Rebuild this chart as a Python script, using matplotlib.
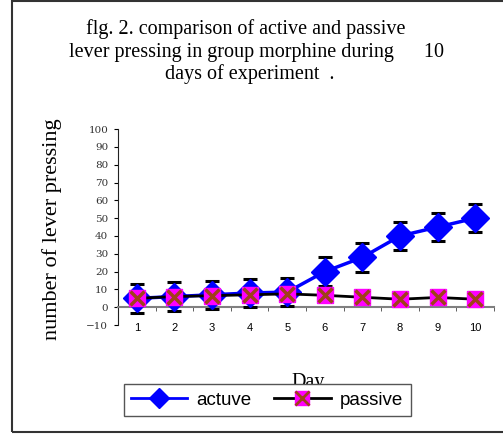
import matplotlib.pyplot as plt
import matplotlib.patches as patches
from matplotlib.lines import Line2D
from matplotlib.legend_handler import HandlerTuple
import numpy as np

days = [1, 2, 3, 4, 5, 6, 7, 8, 9, 10]
activo = [5, 6, 7, 8, 8.5, 20, 28, 40, 45, 50]
activo_err = [8, 8, 8, 8, 8, 8, 8, 8, 8, 8]
pasivo = [5, 6, 6.5, 7, 7.5, 6.7, 5.6, 4.5, 5.5, 4.5]
yticks = list(range(-10, 101, 10))

serif = 'Liberation Serif'
sans = 'Liberation Sans'

fig = plt.figure(figsize=(5.03, 4.34), dpi=100)
ax = fig.add_axes([0.2346, 0.2510, 0.7475, 0.4516])

# borde de la figura
fig.patches.append(patches.Rectangle((0.0239, 0.0046), 1.2, 0.993, transform=fig.transFigure,
                                     fill=False, edgecolor='#333333', lw=1.5, zorder=0))

ax.errorbar(days, activo, yerr=activo_err, color='#0000FF', lw=2.5, marker='D', ms=14,
            mfc='#0000FF', mec='#0000FF', ecolor='black', elinewidth=2.2, capsize=5,
            capthick=2.2, zorder=3)
ax.plot(days, pasivo, color='black', lw=2, zorder=4)
ax.plot(days, pasivo, ls='none', marker='s', ms=11.5, mfc='#FF00FF', mec='#FF00FF', zorder=5)
ax.plot(days, pasivo, ls='none', marker='x', ms=10.5, mew=2.5, color='#A0401A', zorder=6)

ax.set_xlim(0.5, 10.5)
ax.set_ylim(-10, 100)
for s in ['top', 'right']:
    ax.spines[s].set_visible(False)
ax.spines['bottom'].set_position(('data', 0))
ax.spines['bottom'].set_color('#808080')
ax.spines['bottom'].set_linewidth(1.5)
ax.spines['left'].set_color('#222222')

ax.set_xticks(days)
ax.set_xticks(np.arange(0.5, 11, 1), minor=True)
ax.tick_params(axis='x', which='major', length=0, pad=11, labelsize=8)
ax.tick_params(axis='x', which='minor', length=3, direction='out', color='#444444')
for t in ax.get_xticklabels():
    t.set_family(sans)

ax.set_yticks(yticks)
ax.tick_params(axis='y', length=3, labelsize=7.5, labelcolor='#333333', pad=4)
for t in ax.get_yticklabels():
    t.set_family('DejaVu Serif')

ax.set_ylabel('number of lever pressing', family=serif, fontsize=16)
ax.yaxis.set_label_coords(-0.15, 0.49)

fig.text(0.489, 0.9217, 'flg. 2. comparison of active and passive', family=serif,
         fontsize=14.5, ha='center', va='baseline')
fig.text(0.509, 0.8694, 'lever pressing in group morphine during      10', family=serif,
         fontsize=14.5, ha='center', va='baseline')
fig.text(0.497, 0.818, 'days of experiment  .', family=serif,
         fontsize=14.5, ha='center', va='baseline')
fig.text(0.612, 0.118, 'Day', family=serif, fontsize=14.5, ha='center', va='center')

h1 = Line2D([], [], color='#0000FF', lw=2, marker='D', ms=10)
h2a = Line2D([], [], color='black', lw=2, marker='s', ms=10.5, mfc='#FF00FF', mec='#FF00FF')
h2b = Line2D([], [], ls='none', marker='x', ms=10, mew=2, color='#A0401A')
leg = fig.legend([h1, (h2a, h2b)], ['actuve', 'passive'], ncol=2,
                 handler_map={tuple: HandlerTuple(ndivide=1)},
                 loc='center', bbox_to_anchor=(0.531, 0.078), fancybox=False,
                 edgecolor='#555555', framealpha=1, prop={'family': sans, 'size': 13.5},
                 handlelength=3, handletextpad=0.5, columnspacing=1.2, borderpad=0.4)
leg.get_frame().set_linewidth(1)

plt.savefig('out.png', dpi=100)
